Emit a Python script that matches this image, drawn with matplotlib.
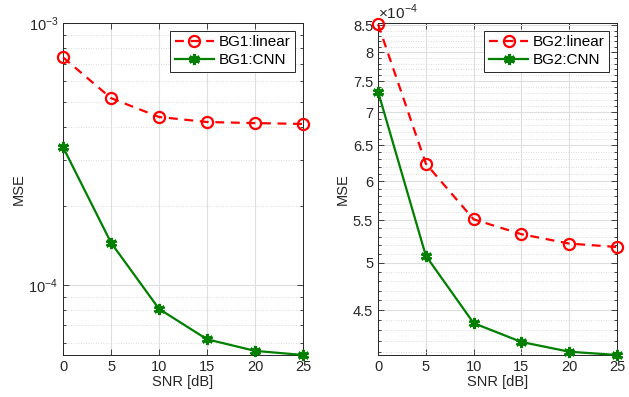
import numpy as np
import matplotlib
matplotlib.use("Agg")
import matplotlib.pyplot as plt
from matplotlib.ticker import FixedLocator, NullFormatter, LogLocator

plt.rcParams['font.family'] = ['Liberation Sans', 'DejaVu Sans']
plt.rcParams['mathtext.fontset'] = 'custom'
plt.rcParams['mathtext.rm'] = 'Liberation Sans'

snr = [0, 5, 10, 15, 20, 25]
# left panel (BG1)
bg1_linear = [7.4e-4, 5.17e-4, 4.38e-4, 4.19e-4, 4.15e-4, 4.12e-4]
bg1_cnn = [3.36e-4, 1.45e-4, 8.1e-5, 6.2e-5, 5.6e-5, 5.4e-5]
# right panel (BG2)
bg2_linear = [8.52e-4, 6.24e-4, 5.51e-4, 5.33e-4, 5.22e-4, 5.18e-4]
bg2_cnn = [7.33e-4, 5.08e-4, 4.37e-4, 4.19e-4, 4.10e-4, 4.07e-4]
bg2_ticks = [4.5, 5, 5.5, 6, 6.5, 7, 7.5, 8, 8.5]

fig = plt.figure(figsize=(6.29, 3.97), dpi=100)
ax1 = fig.add_axes([0.1002, 0.1058, 0.3815, 0.836])
ax2 = fig.add_axes([0.601, 0.1058, 0.380, 0.836])

def style(ax):
    ax.tick_params(which='both', direction='in', top=True, right=True, labelsize=10.5,
                   width=0.6, colors='#262626')
    ax.tick_params(which='major', length=4)
    ax.tick_params(which='minor', length=2)
    ax.grid(True, which='major', color='#dedede', lw=0.8)
    ax.grid(True, which='minor', color='#cfcfcf', lw=0.6, ls=(0, (1, 2)))
    for s in ax.spines.values():
        s.set_linewidth(0.7)
        s.set_color('#262626')
    ax.set_xlim(0, 25)
    ax.set_xticks(snr)
    ax.xaxis.set_minor_locator(FixedLocator([]))
    ax.set_xlabel('SNR [dB]', fontsize=10.5, labelpad=1, color='#262626')
    ax.set_ylabel('MSE', fontsize=10.5, labelpad=2, color='#262626')
    ax.set_axisbelow(True)

for ax, lin, cnn, tag in [(ax1, bg1_linear, bg1_cnn, 'BG1'), (ax2, bg2_linear, bg2_cnn, 'BG2')]:
    ax.plot(snr, lin, '--o', color='red', lw=1.6, ms=8, mfc='none', mew=1.6,
            dashes=(4, 3), label=tag + ':linear', clip_on=False, zorder=3)
    ax.plot(snr, cnn, '-', marker=(6, 2, 0), color='#007f00', lw=1.6, ms=8, mew=2.2,
            label=tag + ':CNN', clip_on=False, zorder=3)
    ax.set_yscale('log')
    style(ax)
    leg = ax.legend(loc='upper right', fontsize=11, frameon=True, fancybox=False,
                    edgecolor='#262626', framealpha=1, borderaxespad=0.5,
                    handlelength=2.6, borderpad=0.3, labelspacing=0.25, handletextpad=0.3)
    leg.get_frame().set_linewidth(0.7)

ax1.set_ylim(5.4e-5, 1e-3)
ax1.yaxis.set_major_locator(LogLocator(base=10, numticks=10))
ax1.yaxis.set_minor_locator(LogLocator(base=10, subs=np.arange(2, 10), numticks=20))
ax1.yaxis.set_minor_formatter(NullFormatter())

ax2.set_ylim(4.07e-4, 8.54e-4)
ax2.yaxis.set_major_locator(FixedLocator([t * 1e-4 for t in bg2_ticks]))
ax2.set_yticklabels([('%g' % t) for t in bg2_ticks])
ax2.yaxis.set_minor_locator(FixedLocator([k * 1e-5 for k in range(41, 86)]))
ax2.yaxis.set_minor_formatter(NullFormatter())
ax2.text(0.0, 1.003, r'$\times10^{-4}$', transform=ax2.transAxes, fontsize=11,
         ha='left', va='bottom', color='#262626')

fig.savefig('out.png', dpi=100)
